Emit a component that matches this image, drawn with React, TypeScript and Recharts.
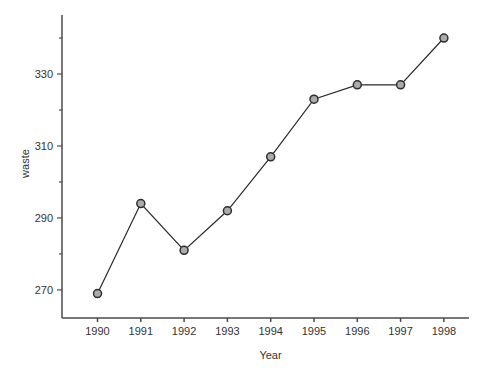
import { LineChart, Line, XAxis, YAxis } from 'recharts';

const years = [1990, 1991, 1992, 1993, 1994, 1995, 1996, 1997, 1998];
const waste = [269, 294, 281, 292, 307, 323, 327, 327, 340];
const yearTicks = [1990, 1991, 1992, 1993, 1994, 1995, 1996, 1997, 1998];
const wasteTicks = [270, 280, 290, 300, 310, 320, 330, 340];
const wasteLabels = [270, 290, 310, 330];

const data = years.map((year, i) => ({ year, waste: waste[i] }));

const font = 'Liberation Sans, Arial, sans-serif';
const ink = '#333';
const axisColor = '#4a4a4a';

function YTick(props: any) {
  const { x, y, payload } = props;
  const axisX = x + 9;
  const major = wasteLabels.includes(payload.value);
  return (
    <g>
      <line x1={axisX} x2={axisX - (major ? 5 : 3)} y1={y} y2={y} stroke={axisColor} strokeWidth={1.2} />
      {major && (
        <text x={x} y={y} dy={4} textAnchor="end" fontSize={11} fill={ink} fontFamily={font}>
          {payload.value}
        </text>
      )}
    </g>
  );
}

export default function App() {
  return (
    <div style={{ position: 'absolute', left: 0, top: 0, background: '#fff' }}>
      <LineChart width={502} height={374} data={data} margin={{ top: 15, right: 33, bottom: 26, left: 0 }}>
        <XAxis
          dataKey="year"
          type="number"
          domain={[1989.18, 1998.58]}
          ticks={yearTicks}
          allowDataOverflow
          height={30}
          tickSize={4}
          tickMargin={5}
          stroke={axisColor}
          strokeWidth={1.5}
          tick={{ fontSize: 11, fill: ink, fontFamily: font }}
          label={{
            content: (p: any) => {
              const vb = p.viewBox;
              return (
                <text
                  x={vb.x + vb.width / 2 + 5}
                  y={vb.y + 41}
                  textAnchor="middle"
                  fontSize={11}
                  fill={ink}
                  fontFamily={font}
                >
                  Year
                </text>
              );
            },
          }}
        />
        <YAxis
          dataKey="waste"
          type="number"
          domain={[262.2, 346.4]}
          ticks={wasteTicks}
          allowDataOverflow
          width={62}
          tickSize={5}
          tickMargin={4}
          tickLine={false}
          stroke={axisColor}
          strokeWidth={1.5}
          tick={<YTick />}
          label={{
            content: (p: any) => {
              const vb = p.viewBox;
              const cx = vb.x + 25;
              const cy = vb.y + vb.height / 2 - 3;
              return (
                <text
                  x={cx}
                  y={cy}
                  transform={`rotate(-90 ${cx} ${cy})`}
                  textAnchor="middle"
                  dominantBaseline="central"
                  fontSize={11}
                  fill={ink}
                  fontFamily={font}
                >
                  waste
                </text>
              );
            },
          }}
        />
        <Line
          type="linear"
          dataKey="waste"
          stroke="#2a2a2a"
          strokeWidth={1.2}
          dot={{ r: 4, fill: '#ababab', stroke: '#2e2e2e', strokeWidth: 1.5 }}
          activeDot={false}
          isAnimationActive={false}
        />
      </LineChart>
    </div>
  );
}
